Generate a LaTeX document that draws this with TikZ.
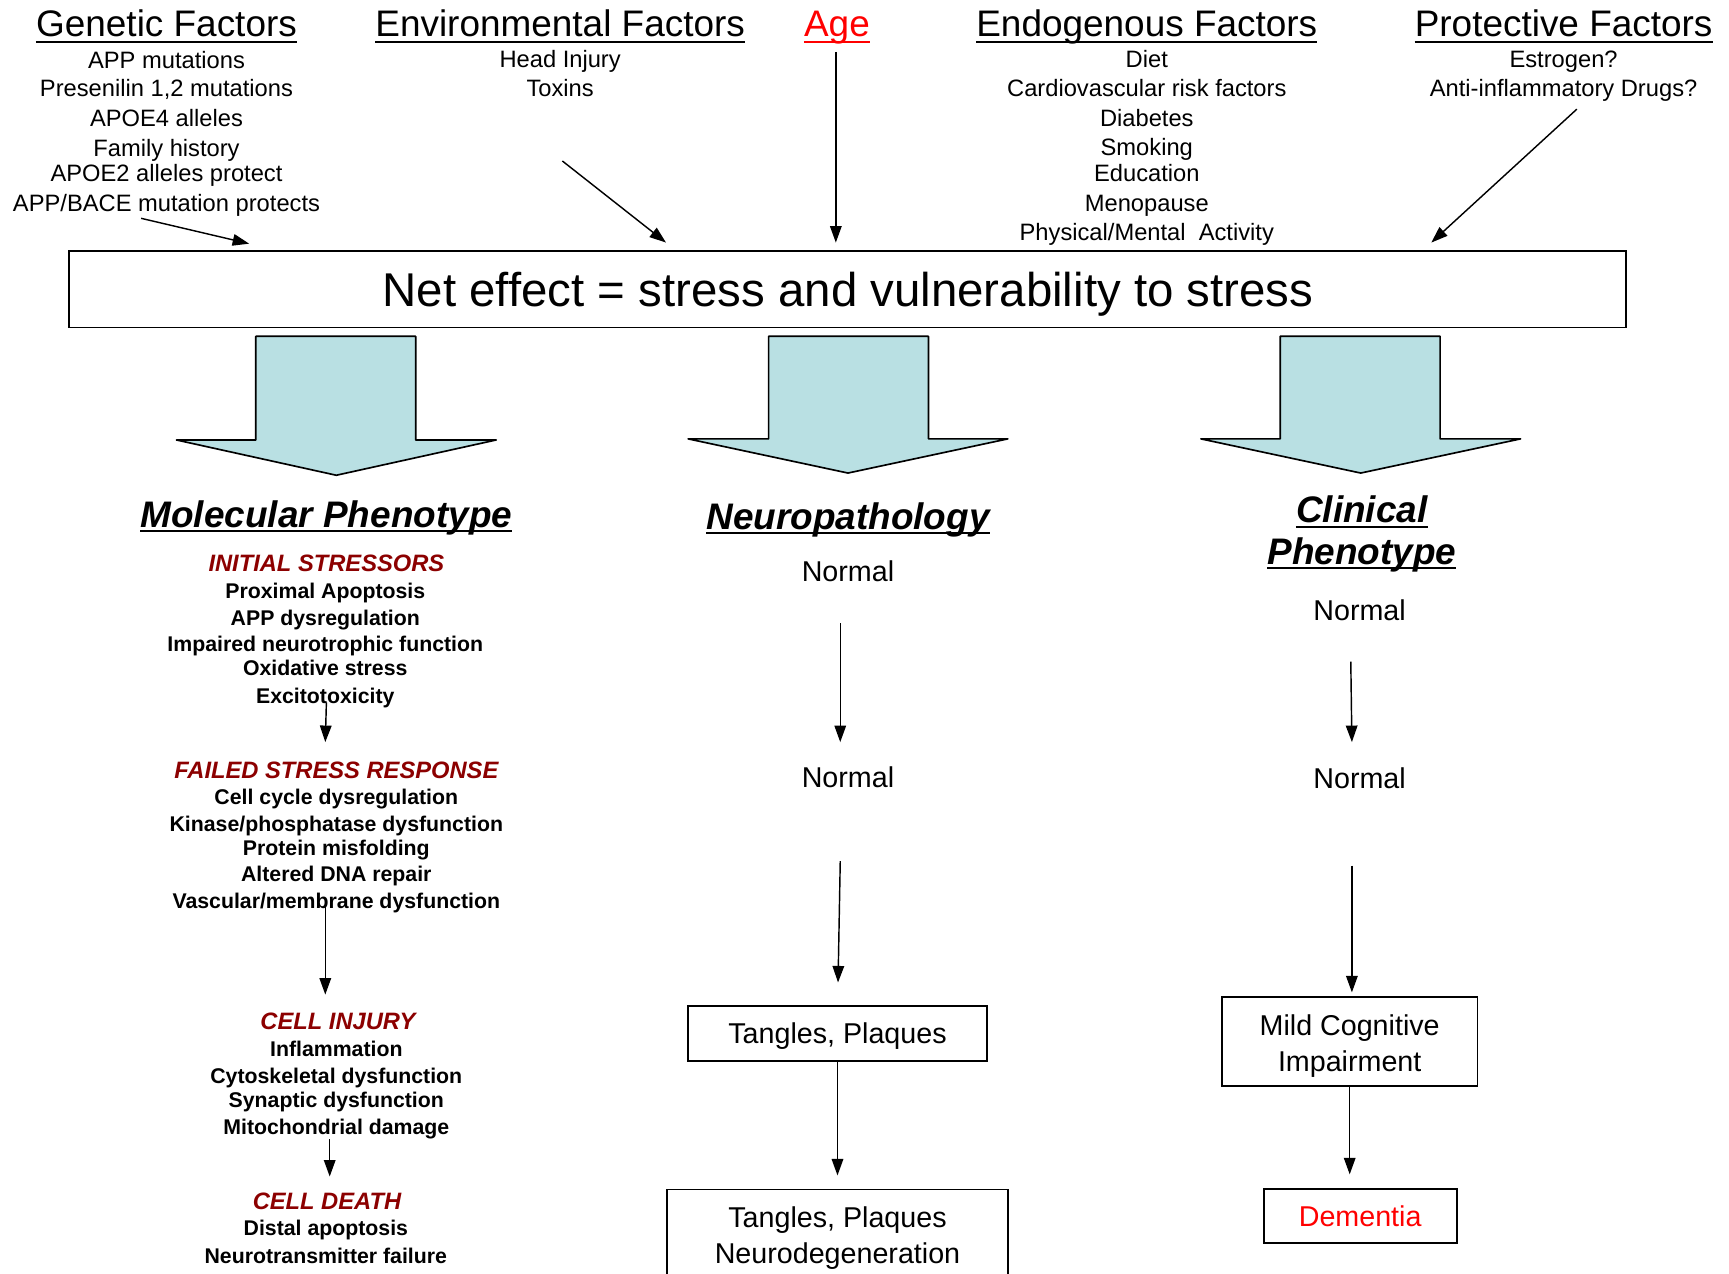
\documentclass[tikz,border=0pt]{standalone}
\usepackage{fontspec}
\setmainfont{Liberation Sans}
\usetikzlibrary{arrows.meta,calc}
\definecolor{arrowfill}{RGB}{185,224,227}
\definecolor{darkred}{RGB}{140,0,0}
\definecolor{brightred}{RGB}{255,0,0}
\newcommand\ulnode[2]{\draw[uline] ($(#1.base west)+(0,#2)$) -- ($(#1.base east)+(0,#2)$);}
\begin{document}
\begin{tikzpicture}[x=1pt,y=-1pt,
  head/.style={anchor=base,inner sep=0pt,font=\fontsize{33.5}{40}\selectfont},
  item/.style={anchor=base,inner sep=0pt,font=\fontsize{21.5}{26}\selectfont},
  colhead/.style={anchor=base,inner sep=0pt,font=\fontsize{33.5}{40}\selectfont\bfseries\itshape},
  stage/.style={anchor=base,inner sep=0pt,text=darkred,font=\fontsize{21.5}{26}\selectfont\bfseries\itshape},
  detail/.style={anchor=base,inner sep=0pt,font=\fontsize{19.3}{24}\selectfont\bfseries},
  normaltxt/.style={anchor=base,inner sep=0pt,font=\fontsize{26}{32}\selectfont},
  box/.style={draw,line width=1.6pt,inner sep=0pt,text height=18.6pt,text depth=0pt,font=\fontsize{26}{32}\selectfont},
  arr/.style={line width=1.3pt,-{Triangle[length=15pt,width=10.5pt]}},
  uline/.style={line width=1.8pt},
  bigarrow/.style={draw,line width=1.5pt,fill=arrowfill,line join=round}
]
\useasboundingbox (0,0) rectangle (1568,1155);
\fill[white] (0,0) rectangle (1568,1155);

% ---------- top headings ----------
\node[head] (h1) at (151,33) {Genetic Factors};
\node[head] (h2) at (508,33) {Environmental Factors};
\node[head,text=brightred] (h3) at (759,33) {Age};
\node[head] (h4) at (1040,33) {Endogenous Factors};
\node[head] (h5) at (1418,33) {Protective Factors};
\ulnode{h1}{5}
\ulnode{h2}{5}
\draw[uline,brightred] ($(h3.base west)+(0,5)$) -- ($(h3.base east)+(0,5)$);
\ulnode{h4}{5}
\ulnode{h5}{5}

% ---------- factor lists ----------
\foreach \t/\y [count=\i] in {{APP mutations}/61.7, {Presenilin 1,2 mutations}/87.7, {APOE4 alleles}/114.8,
  {Family history}/141.5, {APOE2 alleles protect}/164.8, {APP/BACE mutation protects}/192}
  \node[item] (g\i) at (151,\y) {\t};
\foreach \t/\y [count=\i] in {{Head Injury}/61.5, {Toxins}/87.7}
  \node[item] (e\i) at (508,\y) {\t};
\foreach \t/\y [count=\i] in {{Diet}/61.5, {Cardiovascular risk factors}/87.7, {Diabetes}/114.8,
  {Smoking}/141.2, {Education}/164.8, {Menopause}/192, {Physical/Mental\ \ Activity}/218}
  \node[item] (n\i) at (1040,\y) {\t};
\foreach \t/\y [count=\i] in {{Estrogen?}/61.5, {Anti-inflammatory Drugs?}/87.7}
  \node[item] (p\i) at (1418,\y) {\t};

% ---------- net effect box ----------
\node[draw,line width=1.8pt,minimum width=1412pt,minimum height=69pt,inner sep=0pt,
      text height=31pt,text depth=0pt,
      font=\fontsize{43}{50}\selectfont] (net) at (769,262.5)
      {Net effect = stress and vulnerability to stress};

% ---------- arrows into the box ----------
\coordinate (gs) at (128,198);  \coordinate (ge) at (226,221);
\coordinate (es) at (510,146);  \coordinate (ee) at (604,220);
\coordinate (as) at (758,47);   \coordinate (ae) at (758,220);
\coordinate (ps) at (1430,99);  \coordinate (pe) at (1298,220);
\draw[arr] (gs) -- (ge);
\draw[arr] (es) -- (ee);
\draw[arr] (as) -- (ae);
\draw[arr] (ps) -- (pe);

% ---------- block arrows ----------
\draw[bigarrow] (232,305) -- (377,305) -- (377,399) -- (450,399) -- (305,431) -- (160,399) -- (232,399) -- cycle;
\draw[bigarrow] (697,305) -- (842,305) -- (842,398) -- (914,398) -- (769,429) -- (624,398) -- (697,398) -- cycle;
\draw[bigarrow] (1161,305) -- (1306,305) -- (1306,398) -- (1379,398) -- (1234,429) -- (1089,398) -- (1161,398) -- cycle;

% ---------- column headings ----------
\node[colhead] (c1) at (296,478) {Molecular Phenotype};
\node[colhead] (c2) at (769,480) {Neuropathology};
\node[colhead] (c3a) at (1235,474) {Clinical};
\node[colhead] (c3b) at (1235,512) {Phenotype};
\ulnode{c1}{3.5}
\ulnode{c2}{3.5}
\ulnode{c3a}{3.5}
\ulnode{c3b}{3.5}

% ---------- molecular column ----------
\node[stage] (s1) at (296,518.7) {INITIAL STRESSORS};
\foreach \t/\y [count=\i] in {{Proximal Apoptosis}/542.8, {APP dysregulation}/566.8,
  {Impaired neurotrophic function}/590.8, {Oxidative stress}/612.8, {Excitotoxicity}/637.8}
  \node[detail] (a\i) at (295,\y) {\t};
\node[stage] (s2) at (305,705.7) {FAILED STRESS RESPONSE};
\foreach \t/\y [count=\i] in {{Cell cycle dysregulation}/729.8, {Kinase/phosphatase dysfunction}/753.8,
  {Protein misfolding}/775.8, {Altered DNA repair}/799.8, {Vascular/membrane dysfunction}/823.8}
  \node[detail] (b\i) at (305,\y) {\t};
\node[stage] (s3) at (306.5,933.7) {CELL INJURY};
\foreach \t/\y [count=\i] in {{Inflammation}/957.8, {Cytoskeletal dysfunction}/982.8,
  {Synaptic dysfunction}/1004.8, {Mitochondrial damage}/1028.8}
  \node[detail] (d\i) at (305,\y) {\t};
\node[stage] (s4) at (296.5,1096.7) {CELL DEATH};
\foreach \t/\y [count=\i] in {{Distal apoptosis}/1120.8, {Neurotransmitter failure}/1145.8}
  \node[detail] (f\i) at (295.5,\y) {\t};

\coordinate (m1s) at (296,637);  \coordinate (m1e) at (295,673);
\coordinate (m2s) at (295,822);  \coordinate (m2e) at (295,902);
\coordinate (m3s) at (299,1033); \coordinate (m3e) at (299,1067);
\draw[arr] (m1s) -- (m1e);
\draw[arr] (m2s) -- (m2e);
\draw[arr] (m3s) -- (m3e);

% ---------- neuropathology column ----------
\node[normaltxt] (np1) at (769,527.4) {Normal};
\node[normaltxt] (np2) at (769,714.4) {Normal};
\node[box,minimum width=271pt,minimum height=50pt] (tp1) at (759.5,937) {Tangles, Plaques};
\node[draw,line width=1.6pt,minimum width=309pt,minimum height=84pt,anchor=north] (tp2) at (759.5,1078) {};
\node[normaltxt] (tp2a) at (759.5,1113.4) {Tangles, Plaques};
\node[normaltxt] (tp2b) at (759.5,1145.4) {Neurodegeneration};
\coordinate (n1s) at (762,565); \coordinate (n1e) at (762,673);
\coordinate (n2s) at (762,781); \coordinate (n2e) at (760,891);
\draw[arr] (n1s) -- (n1e);
\draw[arr] (n2s) -- (n2e);
\draw[arr] (tp1.south) -- ($(tp2.north)+(0,-12)$);

% ---------- clinical column ----------
\node[normaltxt] (cp1) at (1233,562.4) {Normal};
\node[normaltxt] (cp2) at (1233,715.4) {Normal};
\node[draw,line width=1.6pt,minimum width=232pt,minimum height=81pt] (mci) at (1224,944.5) {};
\node[normaltxt] (mcia) at (1224,939.4) {Mild Cognitive};
\node[normaltxt] (mcib) at (1224,971.4) {Impairment};
\node[box,minimum width=175pt,minimum height=49pt,text=brightred] (dem) at (1233.5,1103) {Dementia};
\coordinate (k1s) at (1225,600); \coordinate (k1e) at (1226,673);
\coordinate (k2s) at (1226,785); \coordinate (k2e) at (1226,900);
\coordinate (k3e) at (1224,1065);
\draw[arr] (k1s) -- (k1e);
\draw[arr] (k2s) -- (k2e);
\draw[arr] (mci.south) -- (k3e);
\end{tikzpicture}
\end{document}
